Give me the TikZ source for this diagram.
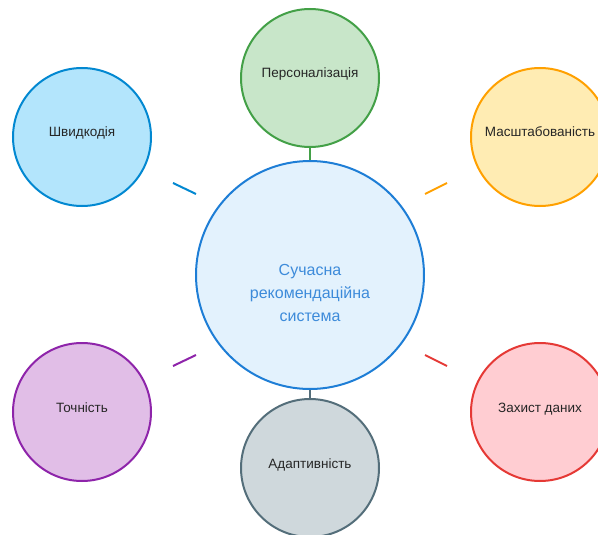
\documentclass[tikz,border=0pt]{standalone}
\usepackage{fontspec}
\setmainfont{Liberation Sans}
\definecolor{coreFill}{HTML}{E3F2FD}
\definecolor{coreLine}{HTML}{1E7ED6}
\definecolor{coreText}{HTML}{3D8BDA}
\definecolor{speedFill}{HTML}{B3E5FC}
\definecolor{speedLine}{HTML}{0288D1}
\definecolor{persFill}{HTML}{C8E6C9}
\definecolor{persLine}{HTML}{43A047}
\definecolor{scaleFill}{HTML}{FFECB3}
\definecolor{scaleLine}{HTML}{FFA000}
\definecolor{accFill}{HTML}{E1BEE7}
\definecolor{accLine}{HTML}{8E24AA}
\definecolor{protFill}{HTML}{FFCDD2}
\definecolor{protLine}{HTML}{E53935}
\definecolor{adaptFill}{HTML}{CFD8DC}
\definecolor{adaptLine}{HTML}{546E7A}

\begin{document}
\begin{tikzpicture}[x=1pt, y=-1pt,
    feature/.style={circle, minimum size=138pt, inner sep=0pt, line width=2pt,
        text height=8pt, text depth=8pt,
        font=\fontsize{13.5}{15}\selectfont, text=black!85},
    spoke/.style={line width=2pt}]

    \useasboundingbox (0,0) rectangle (598,535);

    \node[circle, minimum size=228pt, line width=2pt, draw=coreLine, fill=coreFill] (core) at (310,275) {};
    \node[text=coreText, align=center, font=\fontsize{16}{23}\selectfont] (coreText) at ([yshift=-18pt]core.center)
        {Сучасна\\рекомендаційна\\система};

    \node[feature, draw=persLine, fill=persFill] (pers) at (310,78) {Персоналізація};
    \node[feature, draw=speedLine, fill=speedFill] (speed) at (82,137) {Швидкодія};
    \node[feature, draw=scaleLine, fill=scaleFill] (scal) at (540,137) {Масштабованість};
    \node[feature, draw=accLine, fill=accFill] (acc) at (82,412) {Точність};
    \node[feature, draw=protLine, fill=protFill] (prot) at (540,412) {Захист даних};
    \node[feature, draw=adaptLine, fill=adaptFill] (adapt) at (310,468) {Адаптивність};

    \draw[spoke, persLine] (pers) -- (core);
    \draw[spoke, adaptLine] (adapt) -- (core);

    \coordinate (s1) at (173,183); \coordinate (s2) at (196,194);
    \coordinate (m1) at (425,194); \coordinate (m2) at (447,183);
    \coordinate (a1) at (173,366); \coordinate (a2) at (196,355);
    \coordinate (p1) at (425,355); \coordinate (p2) at (447,366);
    \draw[spoke, speedLine] (s1) -- (s2);
    \draw[spoke, scaleLine] (m1) -- (m2);
    \draw[spoke, accLine] (a1) -- (a2);
    \draw[spoke, protLine] (p1) -- (p2);

\end{tikzpicture}
\end{document}
